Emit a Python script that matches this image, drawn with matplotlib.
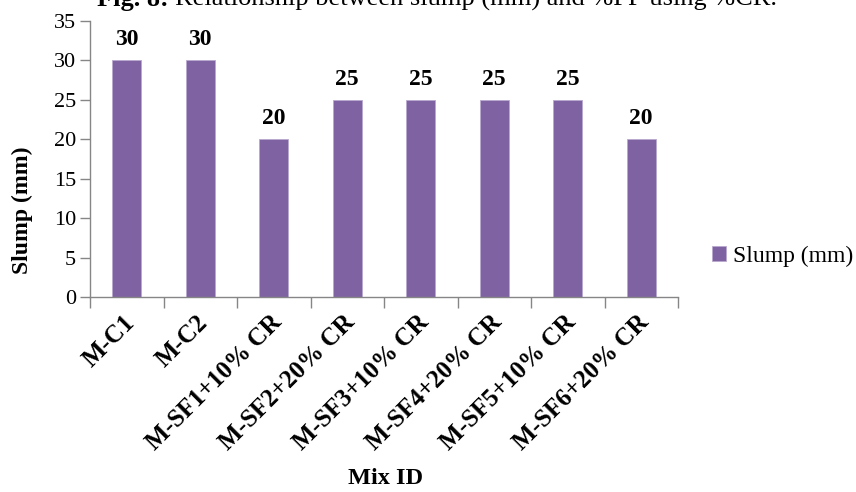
import matplotlib
matplotlib.use("Agg")
import matplotlib.pyplot as plt
import matplotlib.transforms as mtransforms
import numpy as np

categories = ["M-C1", "M-C2", "M-SF1+10% CR", "M-SF2+20% CR", "M-SF3+10% CR",
              "M-SF4+20% CR", "M-SF5+10% CR", "M-SF6+20% CR"]
slump = [30, 30, 20, 25, 25, 25, 25, 20]
yticks = [0, 5, 10, 15, 20, 25, 30, 35]

plt.rcParams['font.family'] = ['Liberation Serif', 'DejaVu Serif']

W, H = 856, 492
fig = plt.figure(figsize=(W / 100, H / 100), dpi=100)
ax = fig.add_axes([90 / W, 1 - 297 / H, (678 - 90) / W, (297 - 21) / H])

x = np.arange(len(categories))
bar_color = "#7F62A1"
bars = ax.bar(x, slump, width=0.39, color=bar_color, edgecolor="#B9A8CF",
              linewidth=0.6, label="Slump (mm)")

for xi, v in zip(x, slump):
    ax.text(xi, v + 1.3, f"{v}", ha="center", va="bottom",
            fontsize=17, fontweight="bold")

ax.set_xlim(-0.5, len(categories) - 0.5)
ax.set_ylim(0, 35)
ax.set_yticks(yticks)
ax.set_yticklabels([str(t) for t in yticks], fontsize=16)

# category ticks sit at the boundaries between bars
ax.set_xticks(np.arange(-0.5, len(categories) + 0.5, 1.0))
ax.set_xticklabels([])
ax.set_xticks(x, minor=True)
ax.set_xticklabels(categories, minor=True, rotation=45, ha="right",
                   rotation_mode="anchor", fontsize=18, fontweight="bold")
ax.tick_params(axis="x", which="minor", length=0, pad=10)
ax.tick_params(axis="x", which="major", length=8, color="#868686", width=1)
ax.tick_params(axis="y", length=7, color="#868686", width=1, pad=3)

shift = mtransforms.ScaledTranslation(-4 / 100, 0, fig.dpi_scale_trans)
for lbl in ax.get_xticklabels(minor=True):
    lbl.set_transform(lbl.get_transform() + shift)

for s in ["top", "right"]:
    ax.spines[s].set_visible(False)
for s in ["left", "bottom"]:
    ax.spines[s].set_color("#868686")
    ax.spines[s].set_linewidth(1)

fig.text(22 / W, 1 - 210 / H, "Slump (mm)", rotation=90, ha="center",
         va="center", fontsize=17, fontweight="bold")
fig.text(385 / W, 1 - 478 / H, "Mix ID", ha="center", va="center",
         fontsize=17.5, fontweight="bold")

leg = fig.legend(handles=[bars], labels=["Slump (mm)"], loc="center left",
                 bbox_to_anchor=(712 / W, 1 - 256 / H), frameon=False,
                 fontsize=17, handlelength=0.6, handleheight=0.6,
                 handletextpad=0.3, borderpad=0, borderaxespad=0)

# figure caption: bold label followed by regular text, centred as a whole
cap_size = 19
cap_y = 1 - 6 / H
cap_bold = fig.text(0, cap_y, "Fig. 8: ", ha="left", va="baseline",
                    fontsize=cap_size, fontweight="bold")
cap_rest = fig.text(0, cap_y, "Relationship between slump (mm) and %FF using %CR.",
                    ha="left", va="baseline", fontsize=cap_size)
renderer = fig.canvas.get_renderer()
wb = cap_bold.get_window_extent(renderer).width
wr = cap_rest.get_window_extent(renderer).width
x0 = 437 - (wb + wr) / 2
cap_bold.set_x(x0 / W)
cap_rest.set_x((x0 + wb) / W)

fig.savefig("out.png", dpi=100)
